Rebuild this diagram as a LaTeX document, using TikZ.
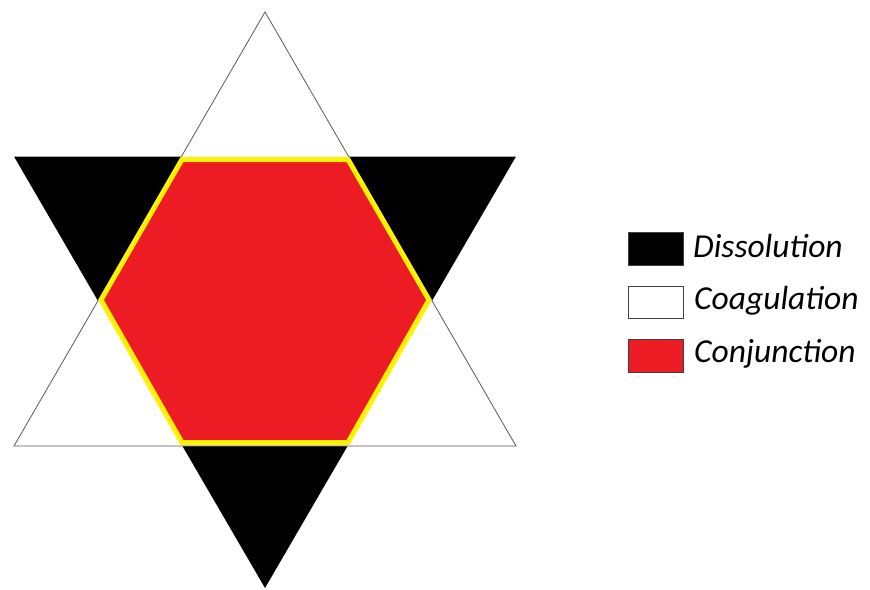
\documentclass[tikz,border=0pt]{standalone}
\usepackage{fontspec}
\setmainfont{Carlito}
\begin{document}
\begin{tikzpicture}[x=1pt,y=-1pt,
  edge/.style={draw=black!65,line width=0.8pt},
  legbox/.style={draw=black!75,line width=0.6pt},
  legtext/.style={anchor=base west,inner sep=0pt,font=\itshape\fontsize{33.5}{36}\selectfont}]
\useasboundingbox (0,0) rectangle (870,589);
% downward triangle (black)
\coordinate (dl) at (14,156.5);
\coordinate (dr) at (516,156.5);
\coordinate (db) at (265,588);
\fill[black] (dl) -- (dr) -- (db) -- cycle;
\draw[black!35,line width=0.8pt] (dl) -- (dr);
% upward triangle (white)
\coordinate (ut) at (265,12);
\coordinate (ul) at (14,446);
\coordinate (ur) at (516,446);
\filldraw[fill=white,edge,line join=miter] (ut) -- (ul) -- (ur) -- cycle;
% hexagon
\coordinate (h1) at (182,159.5);
\coordinate (h2) at (348,159.5);
\coordinate (h3) at (429,300);
\coordinate (h4) at (348,442.5);
\coordinate (h5) at (182,442.5);
\coordinate (h6) at (101,300);
\filldraw[fill={rgb,255:red,237;green,28;blue,36},draw={rgb,255:red,255;green,242;blue,0},line width=5pt,line join=miter]
  (h1) -- (h2) -- (h3) -- (h4) -- (h5) -- (h6) -- cycle;
% legend
\node[legbox,fill=black,minimum width=55pt,minimum height=33pt,inner sep=0pt] (b1) at (655.5,248.5) {};
\node[legbox,fill=white,minimum width=55pt,minimum height=32pt,inner sep=0pt] (b2) at (655.5,302) {};
\node[legbox,fill={rgb,255:red,237;green,28;blue,36},minimum width=55pt,minimum height=33pt,inner sep=0pt] (b3) at (655.5,355.5) {};
\node[legtext] (t1) at (693,257) {Dissolution};
\node[legtext] (t2) at (694,309) {Coagulation};
\node[legtext] (t3) at (694,362) {Conjunction};
\end{tikzpicture}
\end{document}
